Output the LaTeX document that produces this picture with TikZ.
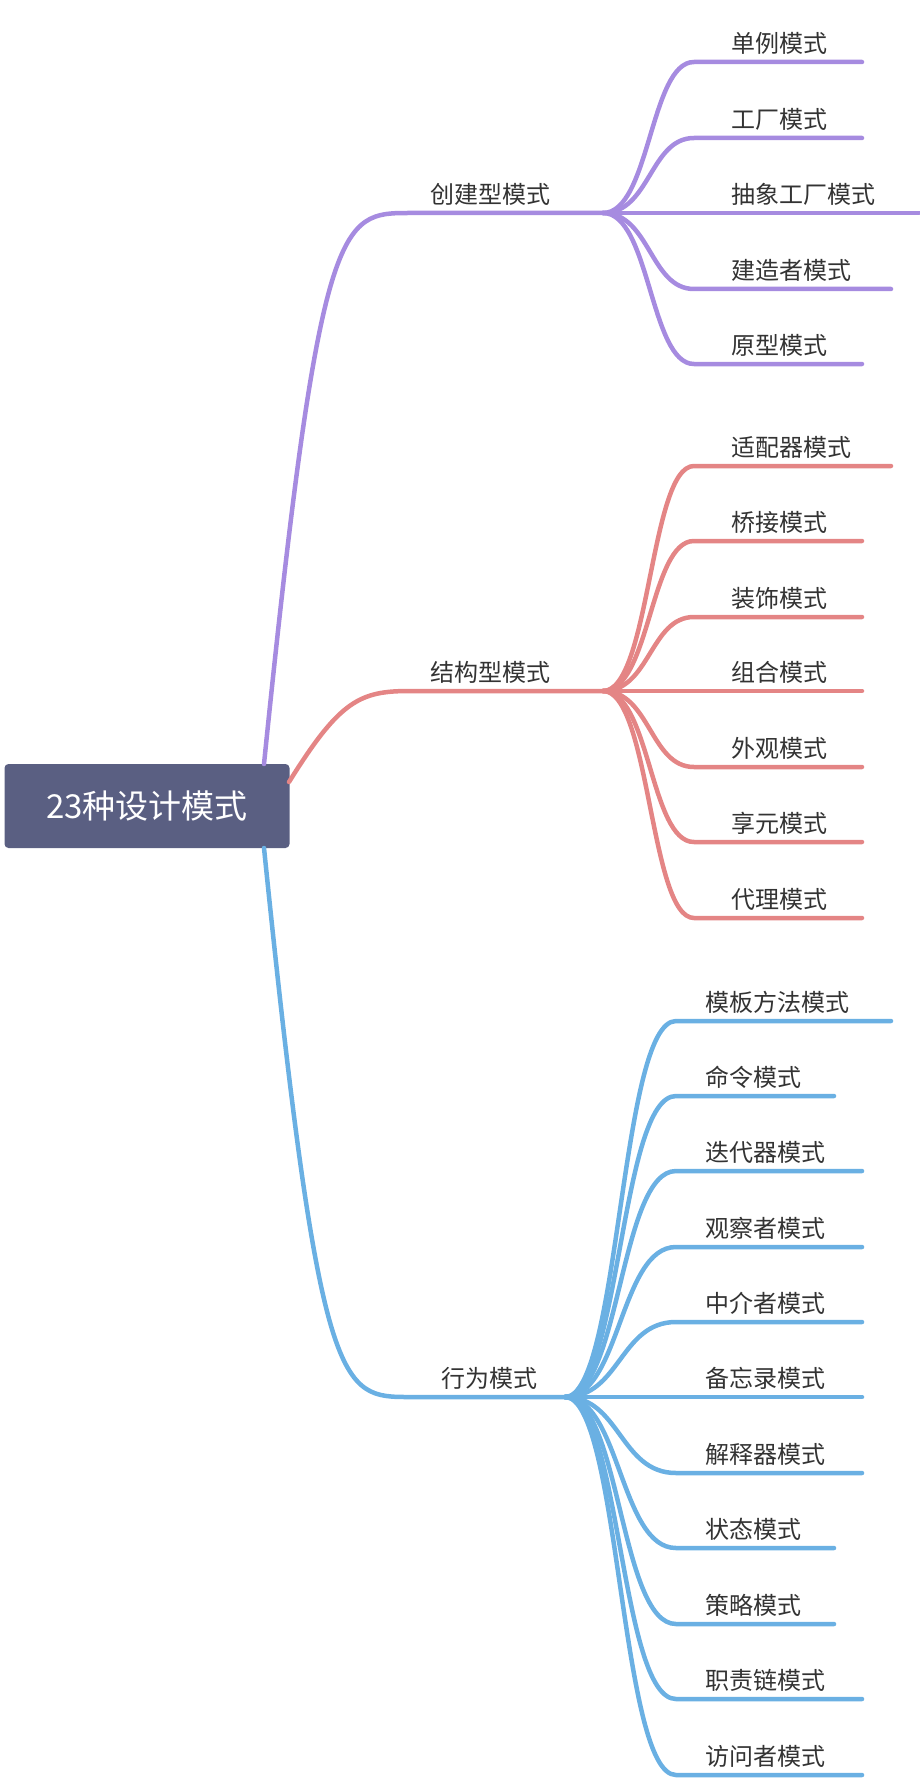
\documentclass[tikz,border=0pt]{standalone}
\usepackage{fontspec}
\newfontfamily\cjk{Noto Sans CJK SC}
\definecolor{cpur}{HTML}{A68BE0}
\definecolor{cred}{HTML}{E48585}
\definecolor{cblu}{HTML}{6AB0E3}
\definecolor{croot}{HTML}{5A5F82}
\begin{document}
\begin{tikzpicture}[x=1pt,y=-1pt,
  lbl/.style={anchor=south west,inner sep=0pt,font=\cjk\fontsize{24}{26}\selectfont,text=black!80},
  br/.style={line width=4.5pt,line cap=round}]
\useasboundingbox (0,0) rectangle (920,1784);
\node[fill=croot,rounded corners=4pt,minimum width=285pt,minimum height=84pt,inner sep=0pt,
  font=\cjk\fontsize{33}{36}\selectfont,text=white] (root) at (147,806) {23种设计模式};
% main branches
\coordinate (c0) at (264,764); \coordinate (c1) at (410,213); \coordinate (ch) at (603,213);
\coordinate (s0) at (289,782); \coordinate (s1) at (410,691); \coordinate (sh) at (603,691);
\coordinate (b0) at (264,848); \coordinate (b1) at (410,1397); \coordinate (bh) at (565,1397);
\draw[br,cpur] (c0) .. controls (320,213) and (340,213) .. (c1) -- (ch);
\draw[br,cred] (s0) .. controls (340,700) and (360,691) .. (s1) -- (sh);
\draw[br,cblu] (b0) .. controls (320,1397) and (340,1397) .. (b1) -- (bh);
\node[lbl,anchor=south] (cl) at (490,206) {创建型模式};
\node[lbl,anchor=south] (sl) at (490,684) {结构型模式};
\node[lbl,anchor=south] (bl) at (489,1390) {行为模式};
% leaves
\foreach \t/\y/\e [count=\i] in {单例模式/62/862,工厂模式/138/862,抽象工厂模式/213/919,建造者模式/289/891,原型模式/364/862}{
  \coordinate (cs\i) at (694,\y); \coordinate (ce\i) at (\e,\y);
  \draw[br,cpur] (ch) .. controls (650,213) and (650,\y) .. (cs\i) -- (ce\i);
  \node[lbl] (ct\i) at (731,\y-7) {\t};}
\foreach \t/\y/\e [count=\i] in {适配器模式/466/891,桥接模式/541/862,装饰模式/617/862,组合模式/691/862,外观模式/767/862,享元模式/842/862,代理模式/918/862}{
  \coordinate (ss\i) at (694,\y); \coordinate (se\i) at (\e,\y);
  \draw[br,cred] (sh) .. controls (650,691) and (650,\y) .. (ss\i) -- (se\i);
  \node[lbl] (st\i) at (731,\y-7) {\t};}
\foreach \t/\y/\e [count=\i] in {模板方法模式/1021/891,命令模式/1096/834,迭代器模式/1171/862,观察者模式/1247/862,中介者模式/1322/862,备忘录模式/1397/862,解释器模式/1473/862,状态模式/1548/834,策略模式/1624/834,职责链模式/1699/862,访问者模式/1775/862}{
  \coordinate (bs\i) at (676,\y); \coordinate (be\i) at (\e,\y);
  \draw[br,cblu] (bh) .. controls (620,1397) and (620,\y) .. (bs\i) -- (be\i);
  \node[lbl] (bt\i) at (705,\y-7) {\t};}
\end{tikzpicture}
\end{document}
